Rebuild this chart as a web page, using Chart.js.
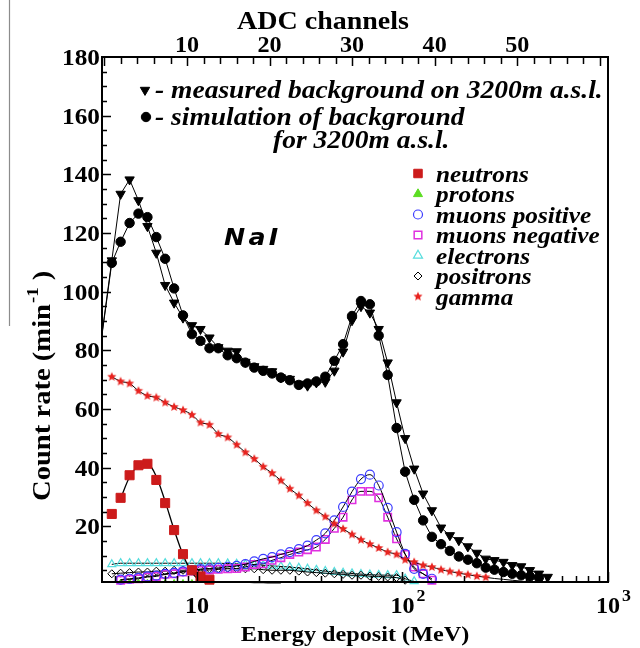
<!DOCTYPE html>
<html><head><meta charset="utf-8">
<style>html,body{margin:0;padding:0;background:#fff;}canvas{display:block;}</style>
<script src="https://cdn.jsdelivr.net/npm/chart.js@4.4.0/dist/chart.umd.min.js"></script>
</head><body>
<canvas id="c" width="640" height="648"></canvas>
<script>
// ---------- data ----------
const energyMeV = [3.0, 3.85, 4.25, 4.70, 5.19, 5.74, 6.34, 7.00, 7.74, 8.55, 9.45, 10.4, 11.5, 12.7, 14.1, 15.6, 17.2, 19.0, 21.0, 23.2, 25.6, 28.3, 31.3, 34.5, 38.1, 42.1, 46.6, 51.4, 56.8, 62.8, 69.4, 76.6, 84.7, 93.6, 103, 114, 126, 139, 154, 170, 188, 208, 230, 254, 280, 310, 342, 378, 417, 461, 509];
const measured = [54, 110.6, 133.3, 138.2, 131.1, 122.3, 113.2, 102.2, 96.2, 91.1, 88.5, 87.2, 84.3, 81.0, 79.8, 79.6, 76.0, 74.5, 73.6, 72.8, 70.7, 70.2, 68.5, 67.9, 69.0, 69.2, 73.0, 79.5, 90.2, 95.0, 92.8, 87.2, 75.8, 62.2, 50.0, 39.6, 31.1, 25.4, 19.5, 16.9, 15.2, 13.1, 10.9, 8.9, 8.4, 7.8, 6.7, 6.3, 5.0, 3.8, 2.7];
const simulated = [54, 109.8, 117.0, 123.4, 126.6, 125.4, 118.6, 111.2, 101.1, 91.9, 85.5, 83.2, 80.7, 80.7, 78.3, 77.3, 75.8, 74.1, 73.0, 72.1, 70.7, 69.8, 68.2, 68.7, 69.4, 71.0, 76.4, 82.1, 91.7, 96.8, 95.7, 85.0, 71.6, 53.5, 38.6, 29.0, 22.0, 16.4, 13.9, 11.6, 9.7, 8.6, 7.4, 5.9, 5.2, 4.4, 3.8, 3.3, 2.9, 2.5, null];
const neutrons = [null, 24.2, 29.7, 37.4, 40.8, 41.3, 35.8, 27.9, 18.7, 10.5, 5.0, 2.9, 1.8];
const neutronsFit = [null, null, 29.5, 36.8, 40.6, 41.4, 37.0, 28.5, 18.8, 10.3, 4.3, 1.6, 1.2, 1.1, 1.0, 0.9, 0.9, 0.8, 0.8, 0.7, 0.7];
const protons = [null, null, 0.6, 0.6, 0.6, 0.6, 0.6, 0.5, 0.5, 0.5, 0.5];
const muonsPositive = [null, null, 1.8, 2.1, 2.4, 2.9, 3.2, 3.8, 4.1, 4.6, 5.0, 5.4, 5.6, 5.8, 6.2, 6.5, 7.1, 8.0, 8.9, 9.5, 10.4, 11.2, 12.2, 13.4, 15.3, 17.6, 22.0, 26.6, 31.8, 36.1, 37.6, 33.9, 26.3, 18.0, 10.6, 5.5, 3.8, 2.1];
const muonsNegative = [null, null, 1.6, 1.9, 2.1, 2.7, 2.9, 3.6, 3.8, 4.4, 4.7, 5.0, 5.1, 5.3, 5.5, 5.6, 6.1, 7.0, 7.2, 8.4, 9.3, 10.4, 11.2, 12.0, 12.9, 15.5, 19.3, 23.1, 29.0, 31.9, 31.9, 29.7, 23.1, 15.7, 10.4, 6.1, 3.8, 1.6];
const electrons = [null, 7.0, 7.4, 7.4, 7.4, 7.4, 7.4, 7.4, 7.4, 7.4, 7.4, 7.4, 7.4, 7.4, 7.3, 7.2, 7.0, 6.9, 6.7, 6.5, 6.3, 6.1, 5.8, 5.5, 5.1, 4.7, 4.4, 4.1, 3.9, 3.7, 3.5, 3.4, 3.3, 3.3, 2.1, 1.2];
const positrons = [null, 3.8, 4.0, 4.2, 4.4, 4.4, 4.7, 4.7, 5.0, 5.0, 5.2, 5.3, 5.5, 5.5, 5.7, 5.5, 5.5, 5.5, 5.2, 5.0, 5.0, 5.0, 4.7, 4.4, 4.2, 4.0, 3.8, 3.6, 3.3, 3.3, 3.0, 2.9, 2.7, 2.5, 1.6];
const gamma = [null, 71.0, 69.4, 68.7, 66.2, 64.5, 63.9, 62.2, 60.7, 59.6, 58.0, 55.4, 54.6, 51.5, 50.3, 47.8, 45.2, 43.0, 40.3, 38.1, 35.6, 32.8, 30.5, 27.9, 25.4, 23.3, 20.9, 19.1, 17.2, 15.4, 13.9, 12.6, 11.2, 10.4, 8.6, 7.8, 6.7, 6.1, 5.2, 4.6, 4.0, 3.5, 3.0, 2.6];
const gammaTail = [null, null, null, null, null, null, null, null, null, null, null, null, null, null, null, null, null, null, null, null, null, null, null, null, null, null, null, null, null, null, null, null, null, null, null, null, null, null, null, null, null, null, null, 2.6, 2.2, 1.9, 1.6, 1.3, 1.0];

const yTickValues = [20, 40, 60, 80, 100, 120, 140, 160, 180];
const xTickValues = [10, 100, 1000];
const xTickBases = ['10', '10', '10'];
const xTickExps = ['', '2', '3'];
const adcTickValues = [10, 20, 30, 40, 50];
const adcRange = [-0.3, 61.0];
const energyRange = [3.45, 1000];
const countRange = [1, 180];

const legendLabels = ['neutrons', 'protons', 'muons positive', 'muons negative', 'electrons', 'positrons', 'gamma'];
const noteMeasured = '- measured background on 3200m a.s.l.';
const noteSim1 = '- simulation of background';
const noteSim2 = 'for 3200m a.s.l.';
const detectorLabel = 'NaI';

// ---------- styles ----------
const SERIF = '"Liberation Serif","Times New Roman",serif';
const RED = '#cc1b1b', STARRED = '#e8231f', BLUE = '#3c3cff', MAG = '#e030e0', CYAN = '#55dddd', GREEN = '#5cdd22';
function makeStar(color, r) {
  const c = document.createElement('canvas'); const s = Math.ceil(r * 2 + 2); c.width = c.height = s;
  const g = c.getContext('2d'); g.fillStyle = color; g.beginPath();
  for (let k = 0; k < 10; k++) { const rr = k % 2 ? r * 0.45 : r; const a = -Math.PI / 2 + k * Math.PI / 5; g.lineTo(s / 2 + rr * Math.cos(a), s / 2 + rr * Math.sin(a)); }
  g.closePath(); g.fill(); return c;
}
const starImg = makeStar(STARRED, 4.8);
const CLIP = {left: 0, right: 0, top: 0, bottom: 6};
const mk = arr => energyMeV.map((e, k) => ({x: e, y: (arr[k] === undefined ? null : arr[k])}));

const datasets = [
  {label: 'measured', data: mk(measured), borderColor: '#000', borderWidth: 1, pointStyle: 'triangle', rotation: 180, pointRadius: 5.4, pointBackgroundColor: '#000', pointBorderColor: '#000', pointBorderWidth: 1, clip: CLIP},
  {label: 'simulation', data: mk(simulated), borderColor: '#000', borderWidth: 1, pointStyle: 'circle', pointRadius: 4.7, pointBackgroundColor: '#000', pointBorderColor: '#000', pointBorderWidth: 1, clip: CLIP},
  {label: 'gamma', data: mk(gamma), borderColor: '#000', borderWidth: 1, pointStyle: starImg, pointRadius: 4.5, cubicInterpolationMode: 'monotone', clip: CLIP},
  {label: 'neutrons', data: mk(neutrons), showLine: false, pointStyle: 'rect', pointRadius: 6.4, pointBackgroundColor: RED, pointBorderColor: RED, pointBorderWidth: 1, clip: CLIP},
  {label: 'neutrons fit', data: mk(neutronsFit), borderColor: '#000', borderWidth: 1.3, pointRadius: 0, cubicInterpolationMode: 'monotone', clip: CLIP},
  {label: 'muons positive', data: mk(muonsPositive), borderColor: '#000', borderWidth: 1, pointStyle: 'circle', pointRadius: 4.5, pointBackgroundColor: 'rgba(0,0,0,0)', pointBorderColor: BLUE, pointBorderWidth: 1.2, cubicInterpolationMode: 'monotone', clip: CLIP},
  {label: 'muons negative', data: mk(muonsNegative), borderColor: '#000', borderWidth: 1, pointStyle: 'rect', pointRadius: 5.2, pointBackgroundColor: 'rgba(0,0,0,0)', pointBorderColor: MAG, pointBorderWidth: 1.6, cubicInterpolationMode: 'monotone', clip: CLIP},
  {label: 'positrons', data: mk(positrons), borderColor: '#000', borderWidth: 1, pointStyle: 'rectRot', pointRadius: 4, pointBackgroundColor: 'rgba(255,255,255,0)', pointBorderColor: '#000', pointBorderWidth: 1, cubicInterpolationMode: 'monotone', clip: CLIP},
  {label: 'electrons', data: mk(electrons), borderColor: '#000', borderWidth: 1, pointStyle: 'triangle', pointRadius: 4.6, pointBackgroundColor: 'rgba(0,0,0,0)', pointBorderColor: CYAN, pointBorderWidth: 1.2, cubicInterpolationMode: 'monotone', clip: CLIP},
  {label: 'gamma tail', data: mk(gammaTail), borderColor: '#000', borderWidth: 1, pointRadius: 0, clip: CLIP},
  {label: 'protons', data: mk(protons), borderColor: '#000', borderWidth: 1, pointStyle: 'triangle', pointRadius: 4, pointBackgroundColor: GREEN, pointBorderColor: GREEN, clip: 0}
];

const legendStyles = [
  {pointStyle: 'rect', radius: 6, fill: RED, stroke: RED, bw: 1},
  {pointStyle: 'triangle', radius: 5.2, fill: GREEN, stroke: GREEN, bw: 1},
  {pointStyle: 'circle', radius: 4.5, fill: null, stroke: BLUE, bw: 1.2},
  {pointStyle: 'rect', radius: 5.4, fill: null, stroke: MAG, bw: 1.5},
  {pointStyle: 'triangle', radius: 5.2, fill: null, stroke: CYAN, bw: 1.2},
  {pointStyle: 'rectRot', radius: 4, fill: null, stroke: '#000', bw: 1},
  {pointStyle: starImg, radius: 5, fill: STARRED, stroke: STARRED, bw: 1}
];

function txt(ctx, s, x, y, font, align, sx) {
  ctx.save(); ctx.font = font; ctx.textAlign = align || 'left'; ctx.textBaseline = 'alphabetic';
  ctx.translate(x, y); ctx.scale(sx || 1, 1); ctx.fillText(s, 0, 0); ctx.restore();
}
function marker(ctx, st, x, y) {
  ctx.save(); ctx.lineWidth = st.bw; ctx.strokeStyle = st.stroke; ctx.fillStyle = st.fill || 'rgba(0,0,0,0)';
  Chart.helpers.drawPoint(ctx, {pointStyle: st.pointStyle, radius: st.radius, rotation: st.rotation || 0, borderWidth: st.bw}, x, y);
  ctx.restore();
}

const decor = {
  id: 'decor',
  afterDraw(chart) {
    const ctx = chart.ctx, a = chart.chartArea, sx = chart.scales.x, sy = chart.scales.y, st = chart.scales.x2;
    ctx.save();
    // stray scan line at far left
    ctx.strokeStyle = '#8c8c8c'; ctx.lineWidth = 1.2;
    ctx.beginPath(); ctx.moveTo(9.5, 0); ctx.lineTo(9.5, 326); ctx.stroke();
    // frame
    ctx.strokeStyle = '#000'; ctx.lineWidth = 2;
    ctx.strokeRect(a.left, a.top, a.right - a.left, a.bottom - a.top);
    // ticks
    ctx.lineWidth = 1.5; ctx.beginPath();
    for (let v = 5; v < countRange[1]; v += 5) {
      const p = Math.round(sy.getPixelForValue(v)) + 0.5; const len = v % 20 === 0 ? 9 : 5;
      ctx.moveTo(a.left, p); ctx.lineTo(a.left + len, p);
    }
    for (let d = 1; d <= 100; d *= 10) {
      for (let m = 1; m <= 10; m++) {
        const v = d * m; if (v < energyRange[0] || v > energyRange[1]) continue;
        const p = Math.round(sx.getPixelForValue(v)) + 0.5; const len = (m === 1 || m === 10) ? 10 : 6;
        ctx.moveTo(p, a.bottom); ctx.lineTo(p, a.bottom - len);
      }
    }
    for (let c = 0; c <= 60; c += 2) {
      const p = Math.round(st.getPixelForValue(c)) + 0.5; if (p < a.left + 2) continue;
      const len = c % 10 === 0 ? 9 : 7;
      ctx.moveTo(p, a.top); ctx.lineTo(p, a.top + len);
    }
    ctx.stroke();
    ctx.fillStyle = '#000';
    // y tick labels
    yTickValues.forEach(v => txt(ctx, String(v), a.left - 2, sy.getPixelForValue(v) + 8, 'bold 23px ' + SERIF, 'right', 1.1));
    // bottom tick labels
    xTickValues.forEach((v, k) => {
      const p = sx.getPixelForValue(v);
      ctx.font = 'bold 23px ' + SERIF; const w = ctx.measureText(xTickBases[k]).width * 1.05;
      txt(ctx, xTickBases[k], p, 613, 'bold 23px ' + SERIF, 'center', 1.05);
      if (xTickExps[k]) txt(ctx, xTickExps[k], p + w / 2 + 2, 601, 'bold 17px ' + SERIF, 'left', 1.05);
    });
    // top tick labels
    adcTickValues.forEach(v => txt(ctx, String(v), st.getPixelForValue(v), 52, 'bold 23px ' + SERIF, 'center', 1.05));
    // axis titles
    txt(ctx, 'ADC channels', 323, 29, 'bold 25px ' + SERIF, 'center', 1.12);
    txt(ctx, 'Energy deposit (MeV)', (a.left + a.right) / 2, 641, 'bold 22px ' + SERIF, 'center', 1.1);
    // y title (rotated)
    ctx.save(); ctx.translate(50, 501); ctx.rotate(-Math.PI / 2); ctx.scale(1.1, 1);
    ctx.font = 'bold 26px ' + SERIF; ctx.textAlign = 'left'; ctx.textBaseline = 'alphabetic';
    const t1 = 'Count rate (min'; ctx.fillText(t1, 0, 0); const w1 = ctx.measureText(t1).width;
    ctx.font = 'bold 17px ' + SERIF; ctx.fillText('-1', w1 + 1, -12); const w2 = ctx.measureText('-1').width;
    ctx.font = 'bold 26px ' + SERIF; ctx.fillText(' )', w1 + w2 + 1, 0);
    ctx.restore();
    // notes at top
    marker(ctx, {pointStyle: 'triangle', rotation: 180, radius: 5.4, fill: '#000', stroke: '#000', bw: 1}, 145, 90);
    txt(ctx, noteMeasured, 155, 98, 'italic bold 25px ' + SERIF, 'left', 1.1);
    marker(ctx, {pointStyle: 'circle', radius: 4.7, fill: '#000', stroke: '#000', bw: 1}, 146, 117);
    txt(ctx, noteSim1, 155, 125, 'italic bold 25px ' + SERIF, 'left', 1.1);
    txt(ctx, noteSim2, 273, 148, 'italic bold 25px ' + SERIF, 'left', 1.1);
    // detector label
    ctx.save(); ctx.letterSpacing = '3px';
    txt(ctx, detectorLabel, 224, 245, 'italic bold 23px "DejaVu Sans",sans-serif', 'left', 1.1);
    ctx.restore();
    // component legend
    legendLabels.forEach((lab, k) => {
      const y = 173.5 + k * 20.5;
      marker(ctx, legendStyles[k], 418, y);
      txt(ctx, lab, 436, y + 8, 'italic bold 23px ' + SERIF, 'left', 1.1);
    });
    ctx.restore();
  }
};

new Chart(document.getElementById('c'), {
  type: 'line',
  data: {datasets},
  options: {
    responsive: false, animation: false, devicePixelRatio: 1,
    layout: {padding: {left: 0, right: 32, top: 0, bottom: 0}},
    plugins: {legend: {display: false}, tooltip: {enabled: false}},
    spanGaps: false,
    scales: {
      x: {type: 'logarithmic', position: 'bottom', min: energyRange[0], max: energyRange[1],
          grid: {display: false, drawTicks: false}, border: {display: false}, ticks: {display: false},
          afterFit(s) { s.height = 66; }},
      x2: {type: 'linear', position: 'top', min: adcRange[0], max: adcRange[1],
          grid: {display: false, drawTicks: false}, border: {display: false}, ticks: {display: false},
          afterFit(s) { s.height = 57; }},
      y: {type: 'linear', position: 'left', min: countRange[0], max: countRange[1],
          grid: {display: false, drawTicks: false}, border: {display: false}, ticks: {display: false, includeBounds: false},
          afterFit(s) { s.width = 102; }}
    }
  },
  plugins: [decor]
});
</script>
</body></html>
